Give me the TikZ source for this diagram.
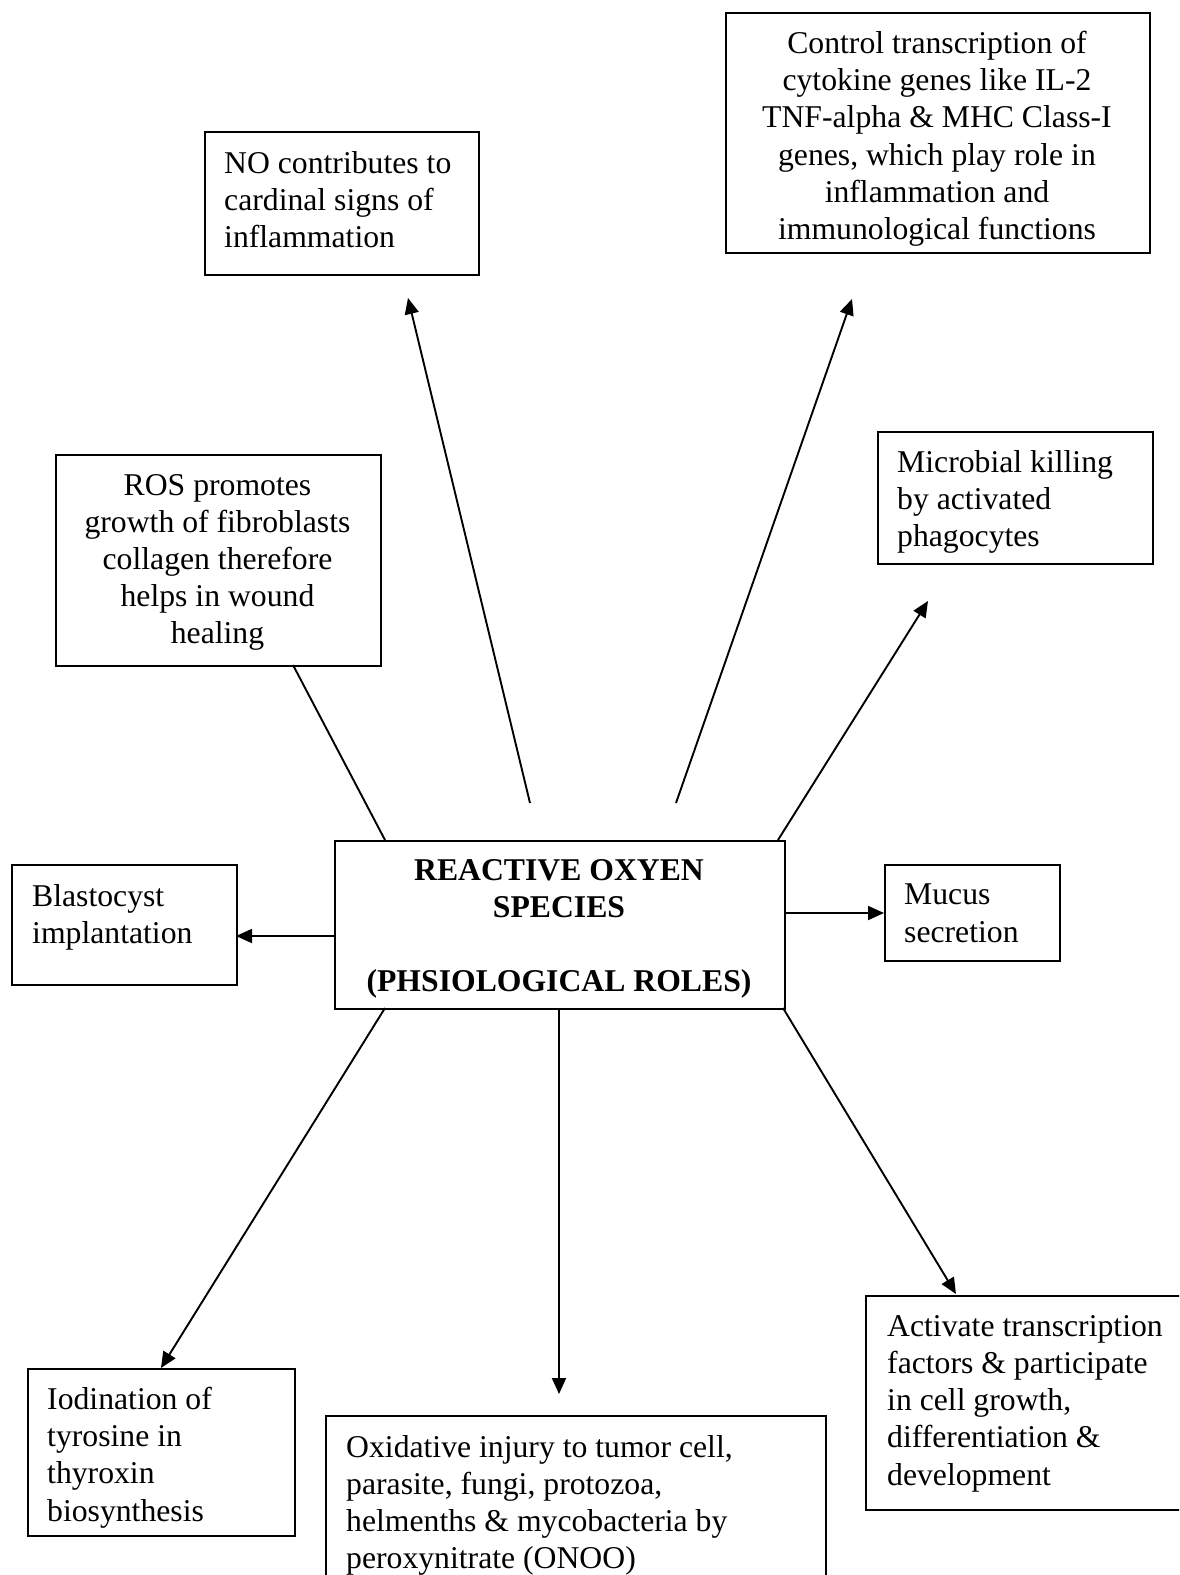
\documentclass[tikz,border=0pt]{standalone}
\usepackage{fontspec}
\setmainfont{Liberation Serif}
\usetikzlibrary{arrows.meta}
\tikzset{
  box/.style={draw, line width=1.9pt, inner sep=0pt, anchor=north west},
  txt/.style={inner sep=0pt, anchor=north west, align=left, font=\fontsize{31.7}{37.2}\selectfont},
  ctxt/.style={inner sep=0pt, anchor=north, align=center, font=\fontsize{31.7}{37.2}\selectfont},
  arr/.style={line width=1.9pt, -{Triangle[length=16pt,width=14pt]}},
  lnk/.style={line width=1.9pt}
}
\begin{document}
\begin{tikzpicture}[x=1pt,y=-1pt]
\useasboundingbox (0,0) rectangle (1179,1575);
\clip (0,0) rectangle (1179,1575);
\fill[white] (0,0) rectangle (1179,1575);
% boxes
\node[box, minimum width=274pt, minimum height=143pt] (no) at (204,131) {};
\node[box, minimum width=424pt, minimum height=240pt] (ctl) at (725,12) {};
\node[box, minimum width=325pt, minimum height=211pt] (ros) at (55,454) {};
\node[box, minimum width=275pt, minimum height=132pt] (mic) at (877,431) {};
\node[box, minimum width=225pt, minimum height=120pt] (bla) at (11,864) {};
\node[box, minimum width=450pt, minimum height=168pt] (cen) at (334,840) {};
\node[box, minimum width=175pt, minimum height=96pt] (muc) at (884,864) {};
\node[box, minimum width=267pt, minimum height=167pt] (iod) at (27,1368) {};
\node[box, minimum width=500pt, minimum height=200pt] (oxi) at (325,1415) {};
\node[box, minimum width=330pt, minimum height=214pt] (act) at (865,1295) {};
% texts
\node[txt] (no-t) at (224,151) {NO contributes to\\cardinal signs of\\inflammation};
\node[ctxt] (ctl-t) at (937,31) {Control transcription of\\cytokine genes like IL-2\\TNF-alpha \& MHC Class-I\\genes, which play role in\\inflammation and\\immunological functions};
\node[ctxt] (ros-t) at (217.5,474) {ROS promotes\\growth of fibroblasts\\collagen therefore\\helps in wound\\healing};
\node[txt] (mic-t) at (897,450) {Microbial killing\\by activated\\phagocytes};
\node[txt] (bla-t) at (32,884) {Blastocyst\\implantation};
\node[ctxt, font=\fontsize{31.7}{37.2}\selectfont\bfseries] (cen-t) at (559,859) {REACTIVE OXYEN\\SPECIES\\[37.2pt](PHSIOLOGICAL ROLES)};
\node[txt] (muc-t) at (904,884) {Mucus\\secretion};
\node[txt] (iod-t) at (47,1387) {Iodination of\\tyrosine in\\thyroxin\\biosynthesis};
\node[txt] (oxi-t) at (346,1435) {Oxidative injury to tumor cell,\\parasite, fungi, protozoa,\\helmenths \& mycobacteria by\\peroxynitrate (ONOO)};
\node[txt] (act-t) at (887,1315) {Activate transcription\\factors \& participate\\in cell growth,\\differentiation \&\\development};
% connector end points
\coordinate (noS) at (530,803);
\coordinate (noE) at (408,298);
\coordinate (ctlS) at (676,803);
\coordinate (ctlE) at (852,299);
\coordinate (micS) at (778,840);
\coordinate (micE) at (928,601);
\coordinate (blaS) at (334,936);
\coordinate (blaE) at (236,936);
\coordinate (mucS) at (784,913);
\coordinate (mucE) at (884,913);
\coordinate (iodS) at (385,1008);
\coordinate (iodE) at (161,1368);
\coordinate (oxiS) at (559,1008);
\coordinate (oxiE) at (559,1394);
\coordinate (actS) at (783,1008);
\coordinate (actE) at (956,1294);
\coordinate (rosS) at (293,665);
\coordinate (rosE) at (385,840);
% connectors
\draw[arr] (noS) -- (noE);
\draw[arr] (ctlS) -- (ctlE);
\draw[arr] (micS) -- (micE);
\draw[arr] (blaS) -- (blaE);
\draw[arr] (mucS) -- (mucE);
\draw[arr] (iodS) -- (iodE);
\draw[arr] (oxiS) -- (oxiE);
\draw[arr] (actS) -- (actE);
\draw[lnk] (rosS) -- (rosE);
\end{tikzpicture}
\end{document}
